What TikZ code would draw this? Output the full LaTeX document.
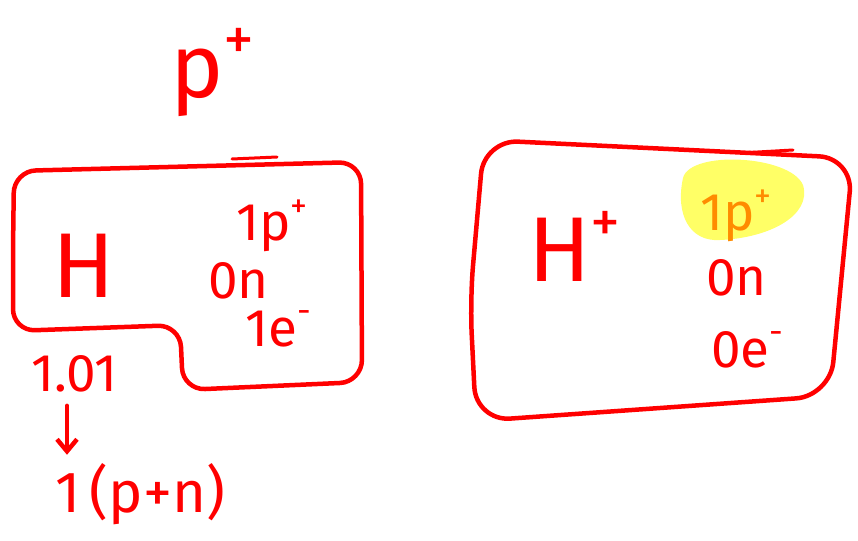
\documentclass[tikz,border=0pt]{standalone}
\usepackage{fontspec}
\setmainfont{Fira Sans}
\usetikzlibrary{arrows.meta}
\definecolor{ink}{HTML}{FF0000}
\definecolor{hl}{HTML}{FFFF66}
\definecolor{hlink}{HTML}{FF8C00}
\newcommand{\fsz}[1]{\fontsize{#1}{#1}\selectfont}
\newcommand{\upplus}[1]{\raisebox{0.42em}{\fsz{#1}+}}
\newcommand{\upminus}[1]{\raisebox{0.45em}{\fsz{#1}-}}
\begin{document}
\begin{tikzpicture}[x=1pt,y=-1pt,
  pen/.style={draw=ink,line width=4.5pt,line cap=round,line join=round},
  thinpen/.style={draw=ink,line width=3pt,line cap=round},
  lbl/.style={text=ink,inner sep=0pt,anchor=base west},
  big/.style={lbl,font=\fsz{92}},
  mid/.style={lbl,font=\fsz{53}}]
\useasboundingbox (0,0) rectangle (858,540);

% top symbol
\node[lbl,font=\fsz{90}] (proton) at (170,98) {p\upplus{62}};

% left box: hydrogen atom
\draw[pen,rounded corners=22pt]
  (13,250) -- (14,171) -- (361,162) -- (362,382) -- (183,390)
  -- (180,325) -- (13,331) -- cycle;
\draw[thinpen] (232,159) -- (277,157);
\node[big] (H) at (52,297) {H};
\node[mid] (p1) at (236,240) {1p\upplus{34}};
\node[mid] (n1) at (208,298) {0n};
\node[mid] (e1) at (245,346) {1e\upminus{34}};

% mass number and the arrow below it
\node[mid] (mass) at (31,391) {1.01};
\node[lbl,font=\fsz{58}] (nuc) at (55,512) {1\,(p+n)};
\coordinate (ax) at (67,0);
\draw[pen,-{Straight Barb[length=12pt,width=20pt]}]
  ([yshift=-14pt]mass.south -| ax) -- ([yshift=8pt]nuc.north -| ax);

% right box: hydrogen ion
\draw[pen,rounded corners=34pt]
  (470,300) -- (484,140) -- (853,158) -- (830,396) -- (476,421) -- cycle;
\draw[thinpen] (740,153) -- (793,150);
\node[big] (Hp) at (528,281) {H\upplus{60}};
\fill[hl] (683,178) .. controls (690,150) and (790,155) .. (803,185)
  .. controls (812,215) and (770,238) .. (720,240)
  .. controls (690,242) and (675,215) .. (683,178) -- cycle;
\node[lbl,font=\fsz{53},text=hlink] (p2) at (700,230) {1p\upplus{34}};
\node[mid] (n2) at (706,295) {0n};
\node[mid] (e2) at (711,367) {0e\upminus{34}};
\end{tikzpicture}
\end{document}
